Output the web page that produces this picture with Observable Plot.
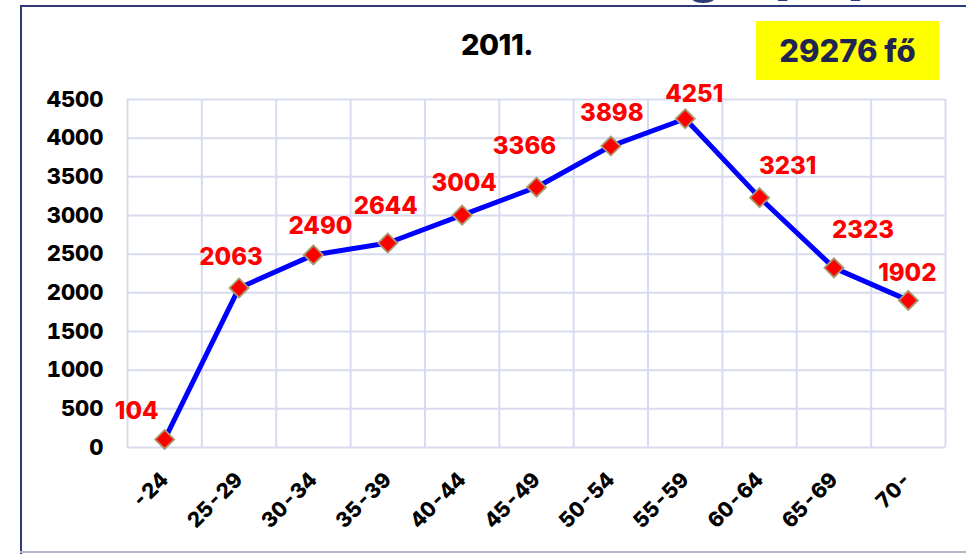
<!DOCTYPE html>
<html>
<head>
<meta charset="utf-8">
<script src="https://cdn.jsdelivr.net/npm/d3@7"></script>
<script src="https://cdn.jsdelivr.net/npm/@observablehq/plot@0.6"></script>
<style>
  body { margin: 0; background: #fff; }
  #wrap { position: relative; width: 966px; height: 554px; overflow: hidden; background: #fff; font-family: Inter, "DejaVu Sans", sans-serif; }
  #chart { position: absolute; left: 0; top: 0; }
  #frameL { position: absolute; left: 20px; top: 5px; width: 2px; height: 560px; background: #2E3A78; }
  #frameT { position: absolute; left: 20px; top: 5px; width: 960px; height: 2px; background: #2E3A78; }
  #frameB { position: absolute; left: 20px; top: 551px; width: 960px; height: 2px; background: #B4B6CE; }
  #title { position: absolute; left: 397px; width: 200px; top: 27px; text-align: center; font-size: 29px; font-weight: 800; color: #000; letter-spacing: -0.5px; }
  #box { position: absolute; left: 756px; top: 21px; width: 183px; height: 59px; background: #FFFF00; color: #1F2550; font-size: 31px; font-weight: 800; display: flex; align-items: center; justify-content: center; }
  #topText { position: absolute; left: 0; top: 0; }
</style>
</head>
<body>
<div id="wrap">
  <svg id="topText" width="966" height="20"></svg>
  <div id="chart"></div>
  <div id="frameL"></div>
  <div id="frameT"></div>
  <div id="frameB"></div>
  <div id="title"></div>
  <div id="box"></div>
</div>
<script>
// ---- data ----
const categories = ["-24", "25-29", "30-34", "35-39", "40-44", "45-49", "50-54", "55-59", "60-64", "65-69", "70-"];
const values = [104, 2063, 2490, 2644, 3004, 3366, 3898, 4251, 3231, 2323, 1902];
const yTicks = [0, 500, 1000, 1500, 2000, 2500, 3000, 3500, 4000, 4500];
const titleText = "2011.";
const totalText = "29276 fő";
// label placement (pixel nudges of each value label relative to its point)
const labelNudge = [[-28, -28], [-8, -31], [7, -29], [-2, -37], [2, -32], [-12, -41], [1, -33], [9, -24], [28, -31], [29, -38], [-1, -27]];

document.getElementById("title").textContent = titleText;
document.getElementById("box").textContent = totalText;

// partially visible slide heading at the top (cut off by the page edge in the original too)
const tt = d3.select("#topText");
tt.append("text").attr("x", 704).attr("y", -9).attr("text-anchor", "middle")
  .attr("font-family", "Inter, sans-serif").attr("font-weight", 800).attr("font-size", 56)
  .attr("fill", "#2E3A78").text("g");
tt.append("text").attr("x", 819).attr("y", -7).attr("text-anchor", "middle")
  .attr("font-family", "Inter, sans-serif").attr("font-weight", 800).attr("font-size", 60)
  .attr("fill", "#2E3A78").text("(fő)");

const data = categories.map((c, k) => ({ cat: c, pos: k + 0.5, value: values[k] }));
const font = "Inter, 'DejaVu Sans', sans-serif";
const grid = "#D8DBF0";

const chart = Plot.plot({
  width: 966,
  height: 554,
  marginLeft: 127,
  marginRight: 21,
  marginTop: 99,
  marginBottom: 107,
  style: { fontFamily: font, background: "transparent", overflow: "visible" },
  x: { domain: [0, categories.length], axis: null, label: null },
  y: { domain: [0, 4500], axis: null, label: null },
  marks: [
    Plot.ruleY(yTicks, { stroke: grid, strokeWidth: 2 }),
    Plot.ruleX(d3.range(categories.length + 1), { y1: 0, y2: 4500, stroke: grid, strokeWidth: 2 }),
    Plot.axisY(yTicks, {
      label: null, tickSize: 0, tickPadding: 24, fontSize: 22, fontWeight: 800, fill: "#000", tickFormat: d => String(d)
    }),
    Plot.axisX(data.map(d => d.pos), {
      label: null, tickSize: 0, tickPadding: 29, tickRotate: -45, fontSize: 21, fontWeight: 800, fill: "#000",
      tickFormat: d => categories[Math.floor(d)]
    }),
    Plot.line(data, { x: "pos", y: "value", stroke: "#0000FF", strokeWidth: 5, strokeLinejoin: "round" }),
    Plot.dot(data, { x: "pos", y: "value", symbol: "diamond2", r: 8.6, fill: "#FF0000", stroke: "#A8996E", strokeWidth: 1.8 }),
    ...data.map((d, k) => Plot.text([d], {
      x: "pos", y: "value", text: dd => String(dd.value),
      dx: labelNudge[k][0], dy: labelNudge[k][1],
      fill: "#FF0000", fontSize: 24, fontWeight: 800
    }))
  ]
});
document.getElementById("chart").appendChild(chart);
</script>
</body>
</html>
